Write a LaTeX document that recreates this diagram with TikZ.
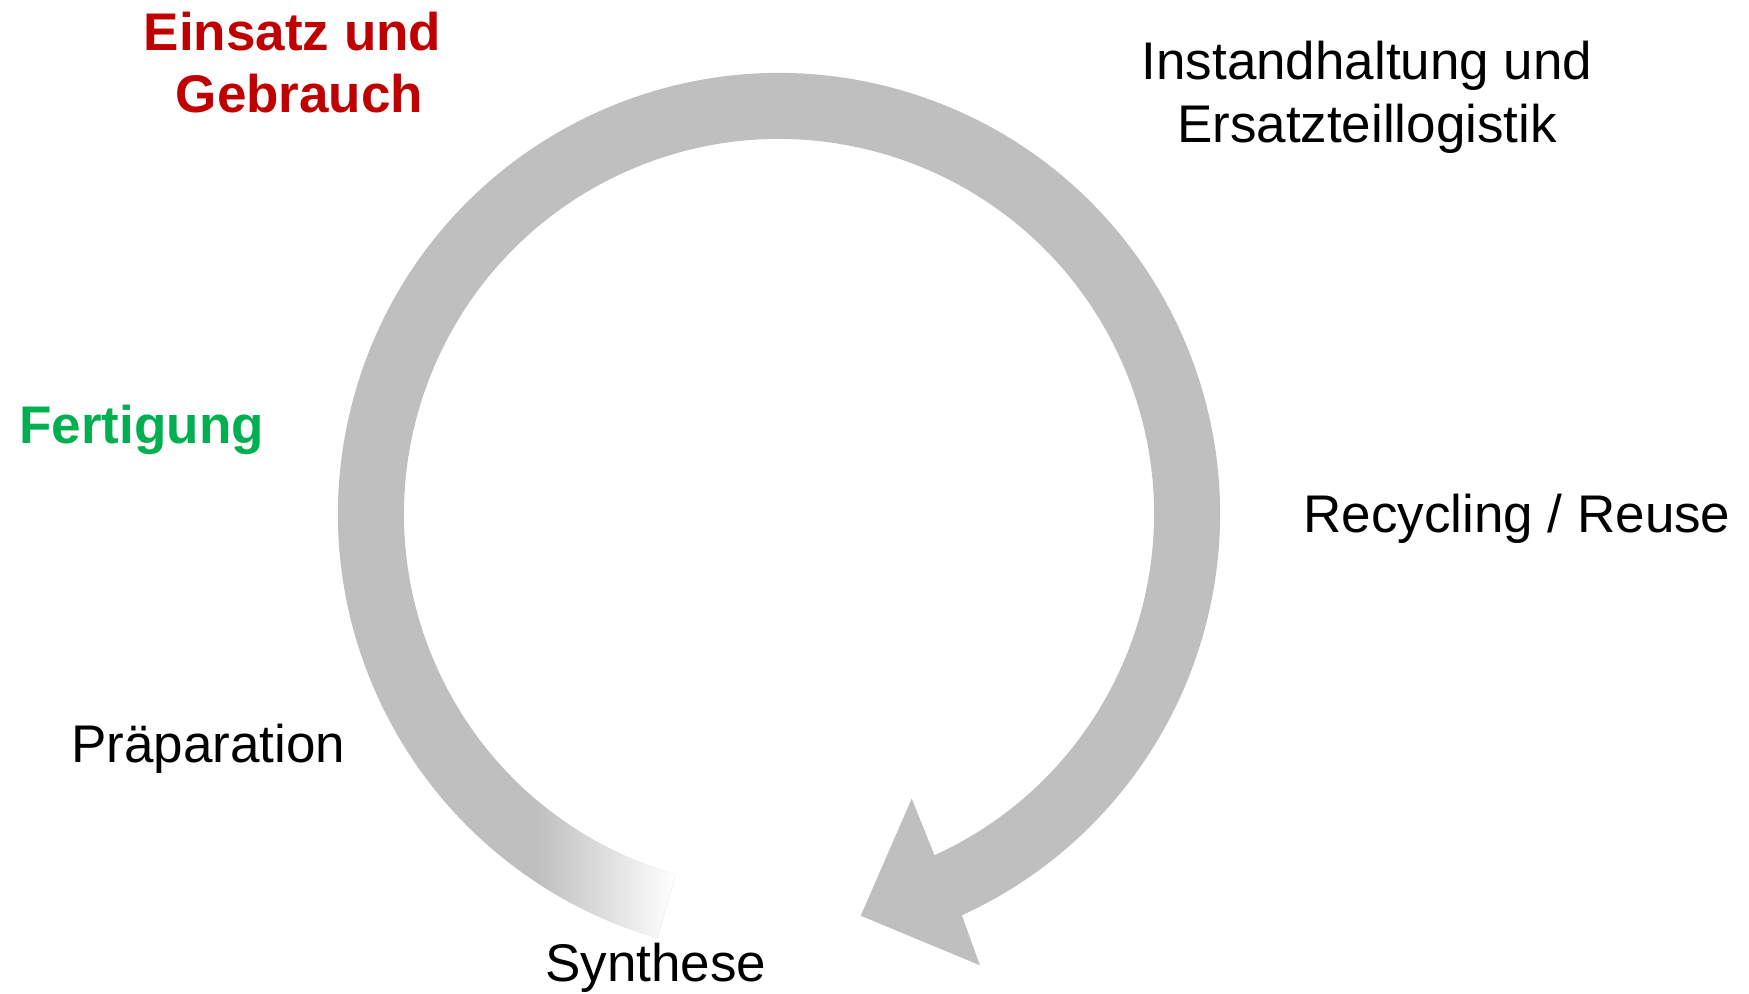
\documentclass[tikz,border=0pt]{standalone}
\usepackage{fontspec}
\setmainfont{Liberation Sans}
\definecolor{lightgrey}{HTML}{BFBFBF}
\definecolor{darkred}{HTML}{C00000}
\definecolor{officegreen}{HTML}{00B050}
\begin{document}
\begin{tikzpicture}[x=0.5pt,y=0.5pt,
  lbl/.style={inner sep=0pt,font=\fontsize{26.5pt}{32pt}\selectfont},
  redlbl/.style={lbl,font=\fontsize{26.5pt}{32pt}\selectfont\bfseries,text=darkred},
  greenlbl/.style={lbl,font=\fontsize{26.5pt}{32pt}\selectfont\bfseries,text=officegreen},
  band/.style={fill=lightgrey}]
\useasboundingbox (0,0) rectangle (1749,994);
% cycle arrow
\begin{scope}[shift={(779,480)}]
  \fill[band] (254:441) arc[start angle=254, end angle=-65.5, radius=441]
     -- (-66:494) -- (-78.5:410) -- (-65:314) -- (-65.5:375)
     arc[start angle=-65.5, end angle=254, radius=375] -- cycle;
\end{scope}
% fading tail
\begin{scope}
  \clip (537,0) rectangle (720,300);
  \clip[shift={(779,480)}] (254:441) arc[start angle=254, end angle=200, radius=441]
     -- (200:375) arc[start angle=200, end angle=254, radius=375] -- cycle;
  \shade[left color=lightgrey, right color=white] (537,0) rectangle (675,300);
  \fill[white] (675,0) rectangle (720,300);
\end{scope}
% labels
\node[redlbl, anchor=base] (einsatz) at (292.5,943) {Einsatz und};
\node[redlbl, anchor=base] (gebrauch) at (299.5,881) {Gebrauch};
\node[greenlbl, anchor=base west] (fertigung) at (19,550) {Fertigung};
\node[lbl, anchor=base] (instand) at (1367,914) {Instandhaltung und};
\node[lbl, anchor=base] (ersatz) at (1367,851) {Ersatzteillogistik};
\node[lbl, anchor=base west] (recycling) at (1303,461) {Recycling / Reuse};
\node[lbl, anchor=base west] (praep) at (71,231) {Präparation};
\node[lbl, anchor=base west] (synthese) at (545,12) {Synthese};
\end{tikzpicture}
\end{document}
